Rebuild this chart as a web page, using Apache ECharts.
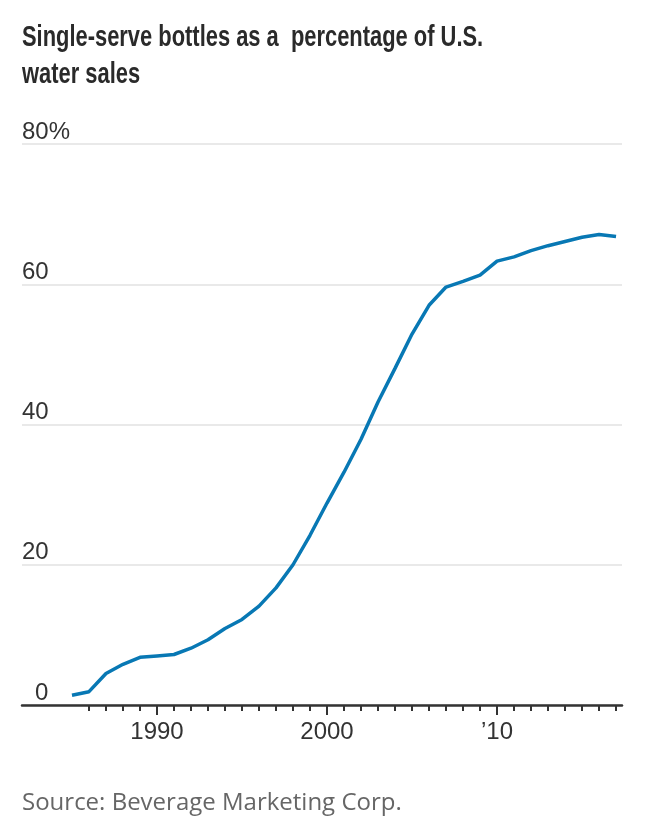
<!DOCTYPE html>
<html><head><meta charset="utf-8">
<script src="https://cdn.jsdelivr.net/npm/echarts@6/dist/echarts.min.js"></script>
<style>html,body{margin:0;padding:0;background:#fff}#c{width:658px;height:832px}</style>
</head><body><div id="c"></div>
<script>
const years = [1985,1986,1987,1988,1989,1990,1991,1992,1993,1994,1995,1996,1997,1998,1999,2000,2001,2002,2003,2004,2005,2006,2007,2008,2009,2010,2011,2012,2013,2014,2015,2016,2017];
const share = [1.4,1.9,4.5,5.8,6.8,7.0,7.2,8.1,9.3,10.9,12.2,14.1,16.7,20.0,24.2,28.8,33.2,37.9,43.2,48.0,52.9,57.0,59.6,60.4,61.3,63.3,63.9,64.8,65.5,66.1,66.7,67.1,66.8];
const yTicks = [0,20,40,60,80];
const xLabelYears = [1990,2000,2010];
const xLabelText = ['1990','2000','\u201910'];
const titleLines = ['Single-serve bottles as a  percentage of U.S.', 'water sales'];
const sourceText = 'Source: Beverage Marketing Corp.';

const minorYears = years.filter(y => y >= 1986 && y % 10 !== 0);
const lineData = years.map((y, i) => [y, share[i]]);
const labelFont = '"Liberation Sans", Arial, sans-serif';

const chart = echarts.init(document.getElementById('c'), null, {renderer: 'canvas'});
chart.setOption({
  backgroundColor: '#fff',
  animation: false,
  grid: {left: 22, right: 36, top: 144, bottom: 127, outerBoundsMode: 'none', containLabel: false},
  xAxis: [{
    type: 'value', position: 'bottom', min: 1982.06, max: 2017.35,
    axisLine: {show: true, onZero: false, lineStyle: {color: '#333', width: 2.5}},
    axisTick: {show: true, customValues: minorYears, length: 6, lineStyle: {color: '#333', width: 2}},
    axisLabel: {show: false},
    splitLine: {show: false}
  }, {
    type: 'value', position: 'bottom', min: 1982.06, max: 2017.35,
    axisLine: {show: false},
    axisTick: {show: true, customValues: xLabelYears, length: 10, lineStyle: {color: '#333', width: 2}},
    axisLabel: {
      show: true, customValues: xLabelYears, margin: 15,
      fontFamily: labelFont, fontSize: 24, color: '#333',
      formatter: v => xLabelText[xLabelYears.indexOf(Math.round(v))] || ''
    },
    splitLine: {show: false}
  }],
  yAxis: {
    type: 'value', min: 0, max: 80, interval: 20,
    axisLine: {show: false}, axisTick: {show: false},
    splitLine: {show: true, lineStyle: {color: '#e2e2e2', width: 1.5}},
    axisLabel: {
      inside: true, margin: 0, verticalAlign: 'bottom',
      fontFamily: labelFont, fontSize: 24, color: '#333',
      formatter: v => yTicks.indexOf(v) < 0 ? '' : (v === 80 ? v + '%' : (v < 10 ? '{pad|' + v + '}' : String(v))),
      rich: {pad: {padding: [0, 0, 0, 13], fontFamily: labelFont, fontSize: 24, color: '#333'}}
    }
  },
  series: [{
    type: 'line', xAxisIndex: 0, data: lineData, showSymbol: false, symbol: 'none',
    lineStyle: {color: '#0878b4', width: 3.5}, smooth: false
  }],
  graphic: [
    {type: 'text', x: 22, y: 23.5, scaleX: 0.755, style: {text: titleLines[0], font: 'bold 29px "Liberation Sans", Arial, sans-serif', fill: '#2a2a2a', verticalAlign: 'top'}},
    {type: 'text', x: 22, y: 60.5, scaleX: 0.755, style: {text: titleLines[1], font: 'bold 29px "Liberation Sans", Arial, sans-serif', fill: '#2a2a2a', verticalAlign: 'top'}},
    {type: 'text', x: 22, y: 791, style: {text: sourceText, font: '24px "Open Sans", sans-serif', fill: '#666', verticalAlign: 'top'}}
  ]
});
</script>
</body></html>
